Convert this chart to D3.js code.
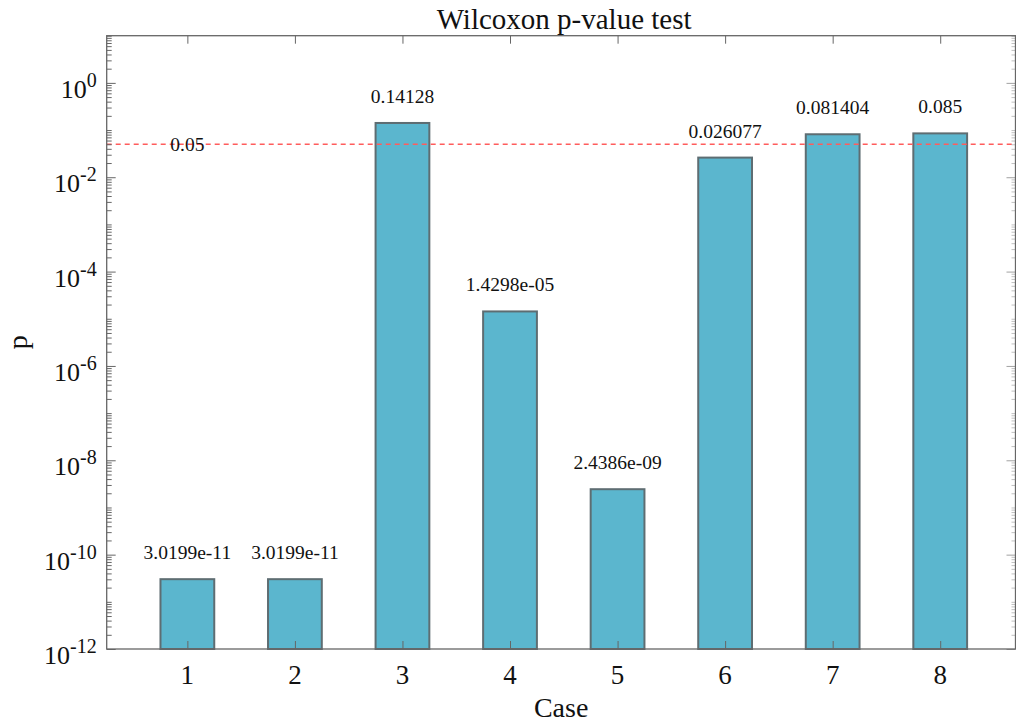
<!DOCTYPE html>
<html>
<head>
<meta charset="utf-8">
<script src="https://cdnjs.cloudflare.com/ajax/libs/d3/7.8.5/d3.min.js"></script>
<style>
  body { margin: 0; background: #fff; }
  text { font-family: "Liberation Serif", "Times New Roman", serif; fill: #111; }
</style>
</head>
<body>
<div id="chart"></div>
<script>
// data
var cases = [1, 2, 3, 4, 5, 6, 7, 8];
var pValues = [3.0199e-11, 3.0199e-11, 0.14128, 1.4298e-05, 2.4386e-09, 0.026077, 0.081404, 0.085];
var pLabels = ["3.0199e-11", "3.0199e-11", "0.14128", "1.4298e-05", "2.4386e-09", "0.026077", "0.081404", "0.085"];
var majorExp = [-12, -10, -8, -6, -4, -2, 0];
var threshold = 0.05;

var W = 1016, H = 722;
var plot = {left: 106.7, right: 1015.5, top: 35.7, bottom: 649};

var svg = d3.select("#chart").append("svg")
    .attr("width", W)
    .attr("height", H);

var x = d3.scaleLinear()
    .domain([0.25, 8.7])
    .range([plot.left, plot.right]);
var y = d3.scaleLog()
    .domain([1e-12, 10])
    .range([plot.bottom, plot.top]);

var barW = x(1.5) - x(1);

// bars
svg.selectAll(".bar")
    .data(cases)
    .enter()
    .append("rect")
    .attr("class", "bar")
    .attr("x", function(d) { return x(d) - barW / 2; })
    .attr("width", barW)
    .attr("y", function(d, i) { return y(pValues[i]); })
    .attr("height", function(d, i) { return plot.bottom - y(pValues[i]); })
    .attr("fill", "#5BB6CE")
    .attr("stroke", "#5E6D72")
    .attr("stroke-width", 2);

// value labels
svg.selectAll(".vlabel")
    .data(cases)
    .enter()
    .append("text")
    .attr("class", "vlabel")
    .attr("x", function(d) { return x(d); })
    .attr("y", function(d, i) { return y(pValues[i]) - 20; })
    .attr("text-anchor", "middle")
    .style("font-size", "19.5px")
    .text(function(d, i) { return pLabels[i]; });

// threshold line
svg.append("line")
    .attr("x1", plot.left).attr("x2", plot.right)
    .attr("y1", y(threshold)).attr("y2", y(threshold))
    .attr("stroke", "#FF5C5C")
    .attr("stroke-width", 1.5)
    .attr("stroke-dasharray", "5,4");

svg.append("text")
    .attr("x", x(1))
    .attr("y", y(threshold) + 7)
    .attr("text-anchor", "middle")
    .style("font-size", "19.5px")
    .text("0.05");

// ticks
var majors = majorExp.map(function(e) { return Math.pow(10, e); });
var minors = [];
for (var e = -12; e <= 0; e++) {
    for (var k = 1; k <= 9; k++) {
        if (k == 1 && majorExp.indexOf(e) >= 0) continue;
        minors.push(k * Math.pow(10, e));
    }
}
minors.push(10);

var axisColor = "#666";

function styleAxis(g) {
    g.select(".domain").remove();
    g.selectAll("line").attr("stroke", axisColor);
}

svg.append("g")
    .attr("transform", "translate(" + plot.left + ",0)")
    .call(d3.axisLeft(y).tickValues(majors).tickSize(-9).tickFormat(""))
    .call(styleAxis);
svg.append("g")
    .attr("transform", "translate(" + plot.left + ",0)")
    .call(d3.axisLeft(y).tickValues(minors).tickSize(-5).tickFormat(""))
    .call(styleAxis);
svg.append("g")
    .attr("transform", "translate(" + plot.right + ",0)")
    .attr("opacity", 0.6)
    .call(d3.axisRight(y).tickValues(majors).tickSize(-9).tickFormat(""))
    .call(styleAxis);
svg.append("g")
    .attr("transform", "translate(" + plot.right + ",0)")
    .attr("opacity", 0.4)
    .call(d3.axisRight(y).tickValues(minors).tickSize(-4).tickFormat(""))
    .call(styleAxis);

svg.append("g")
    .attr("transform", "translate(0," + plot.bottom + ")")
    .call(d3.axisBottom(x).tickValues(cases).tickSize(-8).tickFormat(""))
    .call(styleAxis);
svg.append("g")
    .attr("transform", "translate(0," + plot.top + ")")
    .call(d3.axisTop(x).tickValues(cases).tickSize(-8).tickFormat(""))
    .call(styleAxis);

// box
svg.append("rect")
    .attr("x", plot.left).attr("y", plot.top)
    .attr("width", plot.right - plot.left).attr("height", plot.bottom - plot.top)
    .attr("fill", "none")
    .attr("stroke", axisColor)
    .attr("stroke-width", 1.3);

// y tick labels 10^n
var ylab = svg.selectAll(".ylab")
    .data(majorExp)
    .enter()
    .append("text")
    .attr("class", "ylab")
    .attr("x", plot.left - 10)
    .attr("y", function(d) { return y(Math.pow(10, d)) + 15; })
    .attr("text-anchor", "end")
    .style("font-size", "26px");
ylab.append("tspan").text("10");
ylab.append("tspan")
    .attr("dy", -11)
    .style("font-size", "20px")
    .text(function(d) { return d; });

// x tick labels
svg.selectAll(".xlab")
    .data(cases)
    .enter()
    .append("text")
    .attr("class", "xlab")
    .attr("x", function(d) { return x(d); })
    .attr("y", 684)
    .attr("text-anchor", "middle")
    .style("font-size", "27px")
    .text(function(d) { return d; });

// axis titles
svg.append("text")
    .attr("x", (plot.left + plot.right) / 2)
    .attr("y", 717)
    .attr("text-anchor", "middle")
    .style("font-size", "28px")
    .text("Case");

svg.append("text")
    .attr("transform", "translate(27," + ((plot.top + plot.bottom) / 2) + ")rotate(-90)")
    .attr("text-anchor", "middle")
    .style("font-size", "28px")
    .text("p");

svg.append("text")
    .attr("x", (plot.left + plot.right) / 2 + 3)
    .attr("y", 29)
    .attr("text-anchor", "middle")
    .style("font-size", "29px")
    .text("Wilcoxon p-value test");
</script>
</body>
</html>
